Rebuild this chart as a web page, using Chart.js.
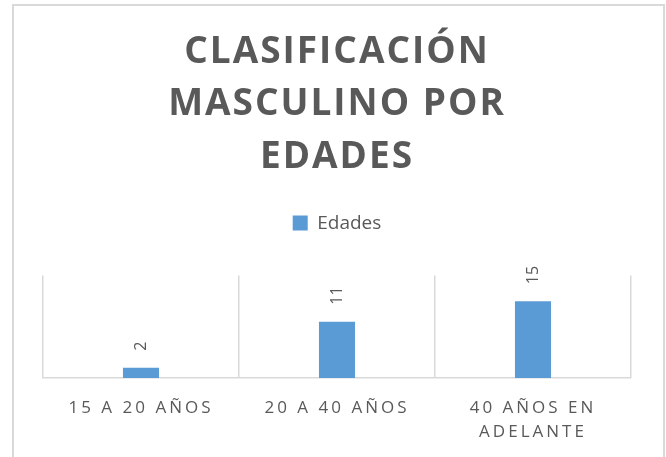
<!DOCTYPE html>
<html>
<head>
<meta charset="utf-8">
<script src="https://cdn.jsdelivr.net/npm/chart.js@4/dist/chart.umd.min.js"></script>
<style>
  body { margin: 0; background: #fff; }
  #wrap { position: relative; width: 666px; height: 457px; }
  #frame {
    position: absolute; left: 12px; top: 4px; width: 649px; height: 470px;
    border: 2px solid #d9d9d9; pointer-events: none;
  }
</style>
</head>
<body>
<div id="wrap">
  <canvas id="chart" width="666" height="457"></canvas>
  <div id="frame"></div>
</div>
<script>
"use strict";

const categories = ["15 A 20 AÑOS", "20 A 40 AÑOS", ["40 AÑOS EN", "ADELANTE"]];
const seriesName = "Edades";
const edades = [2, 11, 15];
const titleLines = ["CLASIFICACIÓN", "MASCULINO POR", "EDADES"];

const gray = "#595959";
const blue = "#5b9bd5";

// letter spacing for title and category labels (canvas ctx.letterSpacing)
const withSpacing = function (fn, spacing) {
  return function (...args) {
    const ctx = this.ctx;
    const old = ctx.letterSpacing;
    ctx.letterSpacing = spacing;
    fn.apply(this, args);
    ctx.letterSpacing = old || "0px";
  };
};
Chart.Title._element.prototype.draw = withSpacing(Chart.Title._element.prototype.draw, "2px");
Chart.CategoryScale.prototype.drawLabels = withSpacing(Chart.CategoryScale.prototype.drawLabels, "3px");

// extra gap under the legend
const legendGap = {
  id: "legendGap",
  beforeInit(chart) {
    const fit = chart.legend.fit;
    chart.legend.fit = function () {
      fit.call(this);
      this.height += 33;
    };
  },
};

const barLabels = {
  id: "barLabels",
  afterDatasetsDraw(chart) {
    const ctx = chart.ctx;
    const meta = chart.getDatasetMeta(0);
    ctx.save();
    ctx.font = "16px 'Open Sans'";
    ctx.fillStyle = gray;
    ctx.textAlign = "left";
    ctx.textBaseline = "middle";
    meta.data.forEach((bar, i) => {
      ctx.save();
      ctx.translate(bar.x, bar.y - 17);
      ctx.rotate(-Math.PI / 2);
      ctx.fillText(String(edades[i]), 0, 0);
      ctx.restore();
    });
    ctx.restore();
  },
};

new Chart(document.getElementById("chart"), {
  type: "bar",
  data: {
    labels: categories,
    datasets: [
      {
        label: seriesName,
        data: edades,
        backgroundColor: blue,
        categoryPercentage: 1,
        barPercentage: 0.184,
      },
    ],
  },
  options: {
    responsive: false,
    animation: false,
    layout: { padding: { left: 43, right: 35, bottom: 13 } },
    plugins: {
      title: {
        display: true,
        text: titleLines,
        color: gray,
        font: { family: "'Open Sans'", size: 37, weight: "bold", lineHeight: 1.42 },
        padding: { top: 26, bottom: 22 },
      },
      legend: {
        display: true,
        position: "top",
        labels: {
          color: gray,
          font: { family: "'Open Sans'", size: 19 },
          boxWidth: 15,
          boxHeight: 15,
          padding: 8,
        },
      },
      tooltip: { enabled: false },
    },
    scales: {
      x: {
        grid: { offset: true, color: "#d9d9d9", lineWidth: 1.5, drawTicks: false },
        border: { color: "#d9d9d9", width: 1.5 },
        ticks: {
          color: gray,
          font: { family: "'Open Sans'", size: 17, lineHeight: 1.42 },
          padding: 18,
          maxRotation: 0,
          autoSkip: false,
        },
        afterFit(scale) {
          scale.height = 66;
        },
      },
      y: {
        display: false,
        min: 0,
        max: 20,
      },
    },
  },
  plugins: [barLabels, legendGap],
});
</script>
</body>
</html>
